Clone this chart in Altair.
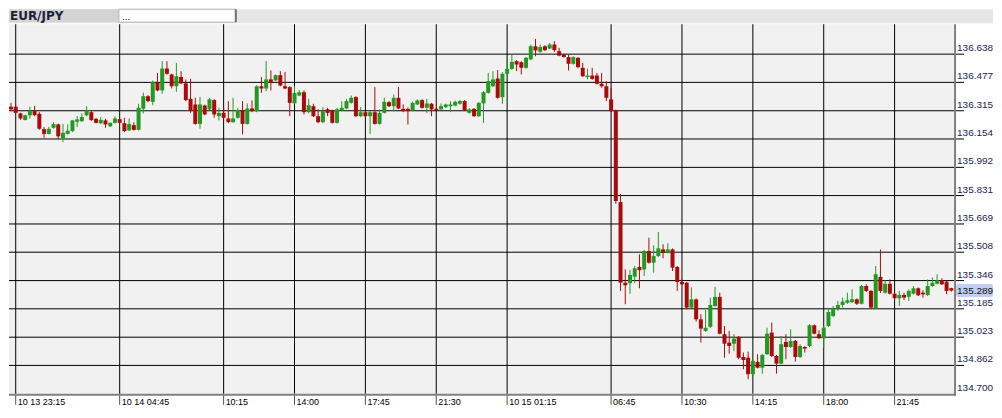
import altair as alt
import pandas as pd

# ---- data (EUR/JPY, 15-minute candles, index 0 = 10-13 23:00) ----
opens = [
136.338,136.338,136.300,136.263,136.289,136.313,136.298,136.210,136.183,136.218,
136.237,136.155,136.183,136.199,136.252,136.256,136.289,136.307,136.269,136.244,
136.260,136.226,136.246,136.267,136.244,136.203,136.233,136.206,136.326,136.398,
136.366,136.474,136.431,136.556,136.522,136.455,136.508,136.471,136.383,136.351,
136.240,136.345,136.323,136.376,136.284,136.303,136.271,136.250,136.275,136.317,
136.240,136.328,136.313,136.455,136.442,136.494,136.488,136.518,136.455,136.450,
136.357,136.402,136.421,136.307,136.341,136.284,136.250,136.323,136.317,136.246,
136.317,136.328,136.360,136.393,136.284,136.307,136.284,136.307,136.240,136.303,
136.364,136.341,136.389,136.326,136.326,136.317,136.351,136.376,136.332,136.355,
136.326,136.323,136.336,136.341,136.345,136.355,136.370,136.303,136.326,136.284,
136.357,136.417,136.455,136.499,136.393,136.526,136.554,136.598,136.592,136.560,
136.608,136.683,136.651,136.683,136.670,136.693,136.655,136.636,136.621,136.583,
136.617,136.560,136.507,136.516,136.516,136.469,136.455,136.380,136.317,135.794,
135.334,135.331,135.368,135.424,135.410,135.515,135.448,135.486,135.524,135.505,
135.524,135.424,135.338,135.334,135.192,135.239,135.125,135.059,135.082,135.201,
135.253,135.040,134.992,134.986,135.024,134.910,134.906,134.812,134.882,134.849,
134.926,135.049,134.916,134.872,134.996,134.967,135.002,134.910,134.967,134.973,
135.091,135.040,135.017,135.087,135.144,135.188,135.207,135.220,135.224,135.239,
135.214,135.315,135.287,135.188,135.367,135.277,135.328,135.271,135.245,135.264,
135.253,135.271,135.302,135.277,135.264,135.315,135.328,135.348,135.340,135.303]

highs = [
136.360,136.345,136.304,136.293,136.338,136.343,136.307,136.222,136.223,136.250,
136.242,136.240,136.237,136.263,136.284,136.300,136.341,136.313,136.273,136.279,
136.269,136.250,136.284,136.273,136.275,136.271,136.250,136.355,136.419,136.404,
136.488,136.531,136.598,136.598,136.527,136.588,136.541,136.494,136.497,136.389,
136.393,136.350,136.389,136.381,136.332,136.332,136.370,136.389,136.332,136.370,
136.357,136.374,136.461,136.507,136.598,136.545,136.522,136.541,136.537,136.455,
136.455,136.433,136.431,136.383,136.355,136.323,136.336,136.332,136.321,136.332,
136.370,136.383,136.402,136.398,136.336,136.313,136.313,136.450,136.323,136.389,
136.370,136.408,136.450,136.351,136.333,136.367,136.380,136.381,136.383,136.360,
136.330,136.357,136.356,136.370,136.373,136.376,136.376,136.330,136.330,136.364,
136.427,136.531,136.541,136.547,136.535,136.626,136.636,136.604,136.598,136.622,
136.693,136.725,136.693,136.689,136.702,136.712,136.674,136.641,136.636,136.626,
136.621,136.588,136.556,136.560,136.531,136.531,136.484,136.446,136.321,135.841,
135.410,135.406,135.429,135.496,135.521,135.591,135.547,135.623,135.553,135.559,
135.529,135.429,135.353,135.338,135.308,135.244,135.154,135.178,135.249,135.310,
135.277,135.087,135.059,135.040,135.030,134.935,134.941,134.893,134.926,134.928,
135.077,135.106,134.922,135.030,135.040,135.068,135.007,134.983,134.973,135.097,
135.096,135.063,135.087,135.190,135.201,135.230,135.249,135.277,135.296,135.244,
135.321,135.325,135.292,135.429,135.524,135.348,135.353,135.277,135.287,135.277,
135.296,135.315,135.307,135.291,135.353,135.363,135.382,135.359,135.347,135.305]

lows = [
136.319,136.300,136.263,136.259,136.271,136.284,136.207,136.161,136.180,136.213,
136.153,136.136,136.179,136.193,136.222,136.250,136.284,136.256,136.242,136.239,
136.218,136.222,136.242,136.242,136.193,136.199,136.202,136.202,136.300,136.364,
136.347,136.427,136.412,136.521,136.442,136.423,136.467,136.370,136.303,136.236,
136.212,136.290,136.319,136.275,136.260,136.270,136.244,136.246,136.270,136.180,
136.236,136.307,136.307,136.417,136.427,136.431,136.484,136.455,136.438,136.284,
136.353,136.398,136.294,136.301,136.279,136.244,136.244,136.284,136.242,136.242,
136.313,136.324,136.356,136.279,136.279,136.279,136.183,136.236,136.236,136.299,
136.336,136.313,136.324,136.307,136.237,136.313,136.347,136.327,136.303,136.284,
136.313,136.319,136.330,136.307,136.341,136.350,136.313,136.299,136.280,136.279,
136.246,136.413,136.450,136.384,136.355,136.518,136.549,136.541,136.522,136.555,
136.604,136.626,136.646,136.655,136.666,136.651,136.626,136.618,136.545,136.578,
136.558,136.508,136.494,136.492,136.465,136.446,136.370,136.307,135.784,135.287,
135.211,135.271,135.331,135.302,135.372,135.443,135.391,135.481,135.473,135.501,
135.401,135.287,135.321,135.182,135.187,135.112,134.992,135.053,135.076,135.196,
135.039,134.906,134.929,134.945,134.897,134.840,134.783,134.798,134.845,134.815,
134.922,134.910,134.815,134.868,134.897,134.962,134.884,134.905,134.935,134.967,
135.039,135.013,134.963,135.082,135.138,135.173,135.192,135.213,135.218,135.207,
135.210,135.281,135.187,135.184,135.275,135.272,135.267,135.234,135.201,135.235,
135.230,135.267,135.258,135.249,135.258,135.310,135.324,135.321,135.268,135.283]

closes = [
136.323,136.303,136.271,136.289,136.313,136.290,136.212,136.183,136.212,136.239,
136.169,136.189,136.201,136.260,136.266,136.279,136.317,136.262,136.246,136.263,
136.237,136.246,136.271,136.246,136.199,136.240,136.206,136.332,136.398,136.370,
136.478,136.431,136.556,136.526,136.455,136.512,136.471,136.376,136.313,136.240,
136.351,136.294,136.380,136.294,136.303,136.275,136.250,136.271,136.319,136.240,
136.328,136.313,136.455,136.442,136.494,136.474,136.518,136.459,136.442,136.360,
136.417,136.421,136.307,136.347,136.284,136.250,136.313,136.303,136.246,136.323,
136.332,136.370,136.389,136.284,136.307,136.284,136.307,136.240,136.303,136.366,
136.341,136.389,136.328,136.313,136.313,136.360,136.374,136.332,136.357,136.323,
136.317,136.341,136.351,136.351,136.366,136.370,136.317,136.323,136.284,136.360,
136.421,136.484,136.494,136.389,136.526,136.554,136.594,136.579,136.560,136.617,
136.683,136.659,136.679,136.661,136.693,136.661,136.630,136.622,136.583,136.621,
136.564,136.512,136.516,136.497,136.469,136.455,136.389,136.313,135.800,135.334,
135.319,135.378,135.416,135.405,135.515,135.448,135.486,135.530,135.505,135.524,
135.420,135.338,135.325,135.192,135.239,135.125,135.072,135.077,135.207,135.253,
135.043,134.986,134.973,135.015,134.906,134.893,134.812,134.888,134.849,134.922,
135.043,134.916,134.872,134.983,134.967,135.002,134.910,134.973,134.958,135.091,
135.043,135.017,135.077,135.167,135.182,135.207,135.226,135.234,135.239,135.214,
135.315,135.287,135.192,135.382,135.287,135.328,135.271,135.245,135.264,135.249,
135.287,135.302,135.262,135.268,135.315,135.334,135.348,135.325,135.287,135.289]

tick_index = [1, 23, 45, 60, 75, 90, 105, 127, 142, 157, 172, 187]
tick_labels = ["10 13 23:15", "10 14 04:45", "10:15", "14:00", "17:45", "21:30",
               "10 15 01:15", "06:45", "10:30", "14:15", "18:00", "21:45"]
price_levels = [136.638, 136.477, 136.315, 136.154, 135.992, 135.831, 135.669,
                135.508, 135.346, 135.185, 135.023, 134.862, 134.700]
price_labels = ["136.638", "136.477", "136.315", "136.154", "135.992", "135.831", "135.669",
                "135.508", "135.346", "135.185", "135.023", "134.862", "134.700"]
last_price = [135.289]
last_label = ["135.289"]
symbol = "EUR/JPY"

# ---- styling ----
GREEN = "#229a22"
RED = "#ab0a0a"
W, H = 946, 370
FONT = "Liberation Sans"
RIGHT = 985

candles = pd.DataFrame({
    "i": list(range(len(opens))),
    "o": opens, "h": highs, "l": lows, "c": closes,
})
candles["dir"] = ["up" if c >= o else "down" for o, c in zip(opens, closes)]

xs = alt.Scale(domain=[-0.423, 199.58], nice=False, zero=False, padding=0)
ys = alt.Scale(domain=[134.700, 136.809], nice=False, zero=False, padding=0)
col = alt.Color("dir:N", scale=alt.Scale(domain=["up", "down"], range=[GREEN, RED]), legend=None)

ticks_df = pd.DataFrame({"i": tick_index, "lab": tick_labels})
levels_df = pd.DataFrame({"p": price_levels, "lab": price_labels})
grid_df = levels_df[levels_df["p"] > min(price_levels)]
last_df = pd.DataFrame({"p": last_price, "lab": last_label})
one = pd.DataFrame({"k": [0]})

hgrid = alt.Chart(grid_df).mark_rule(color="#000000", strokeWidth=1).encode(
    y=alt.Y("p:Q", scale=ys, axis=None), x=alt.value(0), x2=alt.value(W + 10))
vgrid = alt.Chart(ticks_df).mark_rule(color="#000000", strokeWidth=1).encode(
    x=alt.X("i:Q", scale=xs, axis=None), y=alt.value(0), y2=alt.value(H))
xtick = alt.Chart(ticks_df).mark_rule(color="#505050", strokeWidth=1).encode(
    x=alt.X("i:Q", scale=xs, axis=None), y=alt.value(H), y2=alt.value(H + 11))
xlab = alt.Chart(ticks_df).mark_text(align="left", baseline="alphabetic", dx=2,
                                    fontSize=9, font=FONT, color="#000000").encode(
    x=alt.X("i:Q", scale=xs, axis=None), y=alt.value(H + 11), text="lab:N")

right_axis = alt.Chart(one).mark_rule(color="#808080", strokeWidth=2).encode(
    x=alt.value(W + 1), y=alt.value(0), y2=alt.value(H + 2))
bottom_axis = alt.Chart(one).mark_rule(color="#808080", strokeWidth=2).encode(
    x=alt.value(0), x2=alt.value(W + 2), y=alt.value(H + 1))

wicks = alt.Chart(candles).mark_rule(strokeWidth=1).encode(
    x=alt.X("i:Q", scale=xs, axis=None),
    y=alt.Y("l:Q", scale=ys, axis=None), y2="h:Q", color=col)
bodies = alt.Chart(candles).mark_bar(size=4).encode(
    x=alt.X("i:Q", scale=xs, axis=None),
    y=alt.Y("o:Q", scale=ys, axis=None), y2="c:Q", color=col)

ylab = alt.Chart(levels_df).mark_text(align="left", baseline="alphabetic", dy=-3,
                                     fontSize=10, font=FONT, color="#1c2350").encode(
    x=alt.value(W + 3), y=alt.Y("p:Q", scale=ys, axis=None), text="lab:N")

tag = alt.Chart(last_df).mark_tick(orient="horizontal", thickness=13, size=37,
                                   color="#a6b8ec", cornerRadius=2).encode(
    y=alt.Y("p:Q", scale=ys, axis=None), x=alt.value(W + 20.5))
tag_text = alt.Chart(last_df).mark_text(align="left", baseline="middle",
                                        fontSize=10, font=FONT, color="#101010").encode(
    x=alt.value(W + 3), y=alt.Y("p:Q", scale=ys, axis=None), text="lab:N")

# ---- top tab bar ----
bar_bg = alt.Chart(one).mark_rect(color="#e6e6e6").encode(
    x=alt.value(0), x2=alt.value(RIGHT), y=alt.value(-15), y2=alt.value(-1))
tab = alt.Chart(one).mark_rect(color="#d3d3d3").encode(
    x=alt.value(0), x2=alt.value(109), y=alt.value(-15), y2=alt.value(-2))
tab_text = alt.Chart(pd.DataFrame({"t": [symbol]})).mark_text(
    align="left", baseline="middle", fontSize=12, fontWeight="bold", font="DejaVu Sans",
    color="#1b1f3a").encode(x=alt.value(1), y=alt.value(-8), text="t:N")
box = alt.Chart(one).mark_rect(color="#ffffff", stroke="#b0b0b0", strokeWidth=1).encode(
    x=alt.value(110), x2=alt.value(227), y=alt.value(-15), y2=alt.value(-2))
box_edge = alt.Chart(one).mark_rule(color="#707070", strokeWidth=2).encode(
    x=alt.value(227), y=alt.value(-15), y2=alt.value(-2))
box_text = alt.Chart(pd.DataFrame({"t": ["..."]})).mark_text(
    align="left", baseline="middle", fontSize=10, font=FONT, color="#000000").encode(
    x=alt.value(113), y=alt.value(-7), text="t:N")

chart = alt.layer(
    bar_bg, tab, tab_text, box, box_edge, box_text,
    hgrid, vgrid, xtick, xlab, right_axis, bottom_axis,
    wicks, bodies, ylab, tag, tag_text,
).properties(width=W, height=H, padding=0, background="#ffffff").configure_view(
    fill="#f1f1f1", stroke=None)

chart.save("out.html", embed_options={"renderer": "svg", "actions": False})
